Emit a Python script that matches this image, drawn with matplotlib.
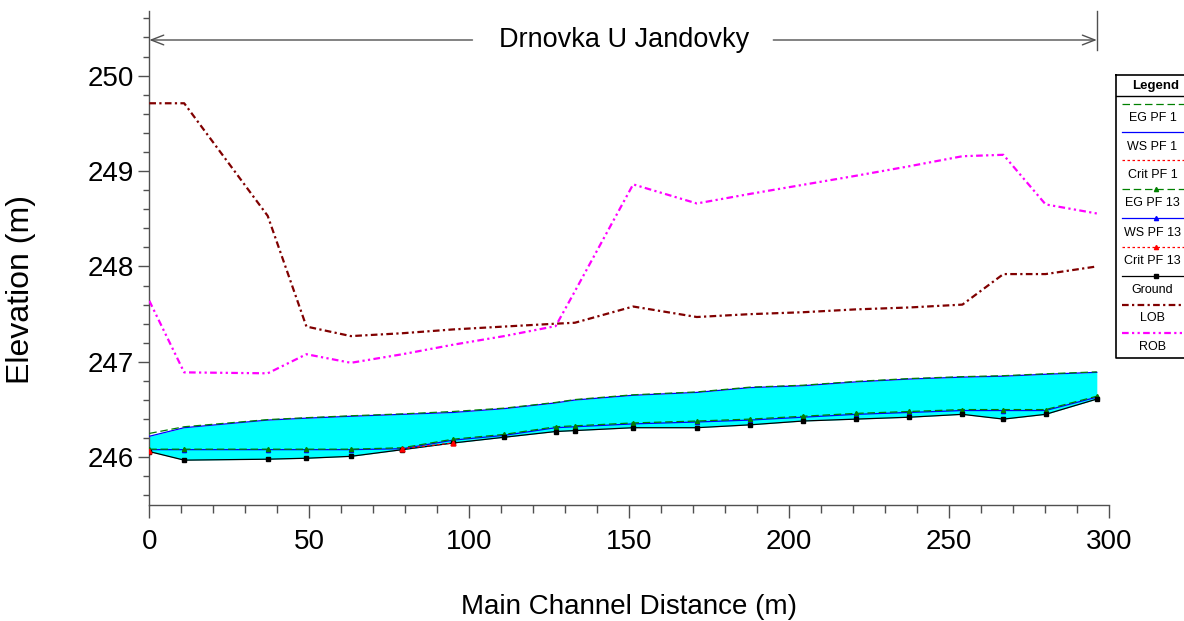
import numpy as np
import matplotlib
matplotlib.use('Agg')
import matplotlib.pyplot as plt
from matplotlib.ticker import MultipleLocator

plt.rcParams['font.family'] = ['Liberation Sans', 'DejaVu Sans']

nan = np.nan
# ---- data ----
stations = [0, 10.9, 37.0, 49.1, 63.0, 79.1, 95.0, 110.9, 127.0, 133.0,
            151.2, 171.1, 187.7, 204.2, 220.8, 237.5, 254.1, 266.9, 280.1, 296.1]
ground = [246.06, 245.97, 245.98, 245.99, 246.01, 246.08, 246.15, 246.21, 246.27, 246.28,
          246.31, 246.31, 246.34, 246.38, 246.40, 246.42, 246.45, 246.40, 246.45, 246.61]
ws_pf1 = [246.22, 246.31, 246.39, 246.41, 246.43, 246.45, 246.47, 246.51, 246.57, 246.60,
          246.65, 246.68, 246.73, 246.75, 246.79, 246.82, 246.84, 246.85, 246.87, 246.89]
eg_pf1 = [246.25, 246.32, 246.395, 246.415, 246.435, 246.455, 246.48, 246.515, 246.575, 246.605,
          246.655, 246.685, 246.735, 246.755, 246.795, 246.825, 246.845, 246.855, 246.875, 246.895]
crit_pf1 = [246.22, nan, nan, nan, nan, nan, nan, nan, nan, nan,
            nan, nan, nan, nan, nan, nan, nan, nan, nan, nan]
ws_pf13 = [246.08, 246.08, 246.08, 246.08, 246.08, 246.09, 246.18, 246.23, 246.31, 246.32,
           246.35, 246.37, 246.39, 246.42, 246.45, 246.47, 246.49, 246.49, 246.49, 246.63]
eg_pf13 = [246.085, 246.085, 246.085, 246.085, 246.085, 246.10, 246.19, 246.24, 246.32, 246.33,
           246.36, 246.38, 246.40, 246.43, 246.46, 246.48, 246.50, 246.50, 246.50, 246.64]
crit_pf13 = [246.07, nan, nan, nan, nan, 246.09, 246.15, nan, nan, nan,
             nan, nan, nan, nan, nan, nan, nan, nan, nan, nan]
lob = [249.71, 249.71, 248.53, 247.37, 247.27, 247.30, 247.34, 247.37, 247.40, 247.41,
       247.58, 247.47, 247.50, 247.52, 247.55, 247.57, 247.60, 247.92, 247.92, 248.00]
rob = [247.64, 246.89, 246.88, 247.08, 246.99, 247.08, 247.18, 247.27, 247.375, 247.74,
       248.86, 248.66, 248.76, 248.855, 248.95, 249.05, 249.155, 249.17, 248.65, 248.555]

title = "Drnovka U Jandovky"
xlabel = "Main Channel Distance (m)"
ylabel = "Elevation (m)"
legend_labels = ["EG PF 1", "WS PF 1", "Crit PF 1", "EG PF 13", "WS PF 13",
                 "Crit PF 13", "Ground", "LOB", "ROB"]

W, H = 1184, 621
fig = plt.figure(figsize=(W / 100, H / 100), dpi=100)
ax = fig.add_axes([149.3 / W, 1 - 505 / H, 960 / W, 494.3 / H])

x = np.array(stations)
GREEN = '#008000'
BLUE = '#0000ff'
RED = '#ff0000'
LOBC = '#800000'
ROBC = '#ff00ff'
AXC = '#505050'

ax.fill_between(x, ground, ws_pf1, color='#00ffff', linewidth=0, zorder=1)
ax.plot(x, ground, color='black', lw=0.9, marker='s', ms=2.5, zorder=4)
ax.plot(x, ws_pf13, color=BLUE, lw=0.9, marker='^', ms=3, zorder=3)
ax.plot(x, eg_pf13, color=GREEN, lw=0.9, dashes=(6, 3), marker='^', ms=3, zorder=3)
ax.plot(x, crit_pf13, color=RED, lw=0.9, dashes=(2, 2), marker='^', ms=3.5, zorder=5)
ax.plot(x, ws_pf1, color=BLUE, lw=0.9, zorder=3)
ax.plot(x, eg_pf1, color=GREEN, lw=0.9, dashes=(6, 3), zorder=3)
ax.plot(x, crit_pf1, color=RED, lw=0.9, dashes=(2, 2), zorder=3)
ax.plot(x, lob, color=LOBC, lw=1.6, dashes=(3, 1.5, 1, 1.5), zorder=3)
ax.plot(x, rob, color=ROBC, lw=1.6, dashes=(3, 1.5, 1, 1.5, 1, 1.5), zorder=3)

ax.set_xlim(0, 300)
ax.set_ylim(245.5, 250.68)
ax.xaxis.set_major_locator(MultipleLocator(50))
ax.xaxis.set_minor_locator(MultipleLocator(10))
ax.yaxis.set_major_locator(MultipleLocator(1))
ax.yaxis.set_minor_locator(MultipleLocator(0.2))
for s in ('top', 'right'):
    ax.spines[s].set_visible(False)
for s in ('left', 'bottom'):
    ax.spines[s].set_color(AXC)
    ax.spines[s].set_linewidth(1.0)
ax.tick_params(axis='x', which='major', length=9, width=1, color=AXC,
               labelsize=20, pad=8)
ax.tick_params(axis='x', which='minor', length=5.5, width=1, color=AXC)
ax.tick_params(axis='y', which='major', length=8, width=1, color=AXC,
               labelsize=20, pad=3)
ax.tick_params(axis='y', which='minor', length=4.5, width=1, color=AXC)
ax.set_xlabel(xlabel, fontsize=20, labelpad=28)
ax.set_ylabel(ylabel, fontsize=23)
ax.yaxis.set_label_coords((36 - 149.3) / 960, (505 - 290) / 494.3)

# title with arrows spanning the reach
ty = (505 - 40) / 494.3
trans = ax.get_xaxis_transform()
x_end = stations[-1]
ax.text(148.5, ty, title, transform=trans, ha='center', va='center', fontsize=19.5)
ax.annotate('', xy=(0, ty), xytext=(101, ty), xycoords=trans, textcoords=trans,
            arrowprops=dict(arrowstyle='->,head_length=0.9,head_width=0.35',
                            color=AXC, lw=1.0, shrinkA=0, shrinkB=0))
ax.annotate('', xy=(x_end, ty), xytext=(195, ty), xycoords=trans, textcoords=trans,
            arrowprops=dict(arrowstyle='->,head_length=0.9,head_width=0.35',
                            color=AXC, lw=1.0, shrinkA=0, shrinkB=0))
ax.plot([x_end, x_end], [(505 - 50) / 494.3, 1.0], transform=trans,
        color=AXC, lw=1.0, clip_on=False)

# ---- legend box (drawn in pixel coordinates) ----
L, T, B, R = 1116, 75, 358, 1196
lax = fig.add_axes([L / W, 1 - B / H, (R - L) / W, (B - T) / H])
lax.set_xlim(L, R)
lax.set_ylim(B, T)
lax.axis('off')
lax.plot([L, R, R, L, L], [T, T, B, B, T], color='black', lw=1.2, clip_on=False)
lax.plot([L, R], [96, 96], color='black', lw=1.0)
lax.text(1156, 85.5, "Legend", ha='center', va='center', fontsize=9.5, fontweight='bold')
line_y = [104.3, 132.3, 160, 189, 217.7, 246.7, 276, 305, 333.3]
text_y = [117.7, 146.7, 175, 203.3, 232.7, 261, 290, 318.3, 346.7]
styles = [
    dict(color=GREEN, lw=0.9, dashes=(6, 3)),
    dict(color=BLUE, lw=0.9),
    dict(color=RED, lw=0.9, dashes=(2, 2)),
    dict(color=GREEN, lw=0.9, dashes=(6, 3)),
    dict(color=BLUE, lw=0.9),
    dict(color=RED, lw=0.9, dashes=(2, 2)),
    dict(color='black', lw=0.9),
    dict(color=LOBC, lw=1.6, dashes=(3, 1.5, 1, 1.5)),
    dict(color=ROBC, lw=1.6, dashes=(3, 1.5, 1, 1.5, 1, 1.5)),
]
markers = [None, None, None, '^', '^', '^', 's', None, None]
for lab, ly, tyy, st, mk in zip(legend_labels, line_y, text_y, styles, markers):
    lax.plot([1122, R], [ly, ly], **st)
    if mk:
        lax.plot([1156], [ly], marker=mk, ms=3 if mk == '^' else 2.5,
                 color=st['color'], linestyle='none')
    lax.text(1152.5, tyy, lab, ha='center', va='center', fontsize=9)

fig.savefig('out.png', dpi=100)
